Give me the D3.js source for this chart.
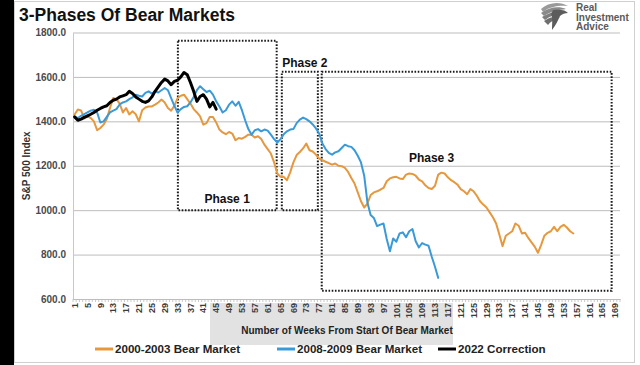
<!DOCTYPE html>
<html><head><meta charset="utf-8">
<script src="https://cdn.jsdelivr.net/npm/d3@7"></script>
<style>body{margin:0;background:#fff}svg{display:block;font-family:"Liberation Sans",Arial,sans-serif}</style>
</head><body><svg width="640" height="365"></svg>
<script>
const weeks = d3.range(1, 171);
const tickWeeks = d3.range(1, 170, 4);
const yTicks = [600, 800, 1000, 1200, 1400, 1600, 1800];

const bear2000 = [1431,1453,1449,1413,1422,1415,1400,1360,1370,1385,1410,1460,1505,1500,1480,1440,1460,1431,1445,1432,
1400,1450,1462,1467,1467,1475,1485,1498,1485,1460,1448,1470,1505,1515,1520,1500,1480,1455,1440,1422,
1385,1392,1420,1420,1395,1363,1350,1342,1352,1345,1315,1325,1322,1330,1340,1340,1327,1333,1320,1295,
1275,1255,1215,1165,1150,1150,1135,1170,1215,1248,1262,1278,1300,1270,1264,1250,1232,1225,1218,1212,
1205,1210,1200,1198,1190,1172,1145,1120,1080,1040,1012,1030,1068,1080,1085,1092,1100,1130,1143,1148,
1150,1143,1140,1160,1165,1163,1155,1138,1130,1112,1100,1095,1110,1160,1169,1165,1148,1135,1126,1115,
1095,1085,1072,1095,1085,1065,1040,1025,1012,990,968,940,890,838,885,895,905,940,930,895,
898,875,855,836,808,844,885,898,905,925,905,925,934,922,905,895];

const bear2008 = [1420,1415,1425,1432,1440,1448,1452,1440,1395,1400,1420,1440,1448,1455,1476,1485,1490,1500,1508,1520,
1515,1512,1528,1535,1525,1535,1530,1540,1550,1540,1505,1470,1440,1455,1465,1468,1485,1510,1540,1558,
1545,1532,1538,1520,1490,1467,1440,1450,1475,1490,1470,1488,1450,1405,1365,1340,1360,1365,1355,1363,
1358,1340,1320,1305,1320,1342,1355,1363,1365,1392,1408,1417,1410,1400,1386,1368,1345,1300,1275,1258,
1250,1260,1265,1280,1295,1288,1285,1270,1245,1215,1155,1035,978,965,928,935,940,870,815,872,
858,895,900,878,905,915,860,832,852,845,840,790,745,695];

const correction2022 = [1420,1405,1410,1418,1425,1432,1440,1450,1458,1465,1470,1485,1495,1500,1510,1515,1520,1535,1525,1510,
1500,1490,1485,1492,1510,1535,1555,1575,1590,1582,1565,1580,1585,1600,1620,1610,1575,1535,1490,1512,
1520,1500,1465,1485,1455];

const seriesNames = ["2000-2003 Bear Market", "2008-2009 Bear Market", "2022 Correction"];
const seriesColors = ["#E6983F", "#3A9AD8", "#000000"];

const phaseNames = ["Phase 1", "Phase 2", "Phase 3"];
const phaseWeeks = [[33.1, 63.8], [65.4, 76.6], [77.8, 167.9]];
const phaseValues = [[1000, 1763], [1000, 1623], [637, 1623]];
const phaseLabelAt = [[48.4, 1032, "middle"], [65.5, 1645, "start"], [104.9, 1217, "start"]];

const svg = d3.select("svg");
const W = 640, H = 365;
const m = {l: 73, r: 20, t: 32.5, b: 66};

// frame
svg.append("rect").attr("x", 0).attr("y", 0).attr("width", W).attr("height", H).attr("fill", "#fff");
svg.append("rect").attr("x", 14.5).attr("y", 1.5).attr("width", 620).attr("height", 361).attr("fill", "none").attr("stroke", "#cfcfcf");
svg.append("rect").attr("x", 0).attr("y", 0).attr("width", 14).attr("height", H).attr("fill", "#000");

const x = d3.scaleBand().domain(weeks).range([m.l, W - m.r]).padding(0);
const bw = x.bandwidth();
const xc = w => x(w) + bw / 2;
const xw = d3.scaleLinear().domain([1, 170]).range([xc(1), xc(170)]);
const y = d3.scaleLinear().domain([600, 1800]).range([H - m.b, m.t]);

// watermark-like gray overlay
svg.append("rect").attr("x", 210).attr("y", 303).attr("width", 243).attr("height", 42).attr("fill", "#d6d6d6").attr("opacity", 0.7);

// gridlines
svg.append("g").attr("transform", `translate(${m.l},0)`)
  .call(d3.axisLeft(y).tickValues(yTicks).tickSize(-(W - m.r - m.l)).tickFormat(""))
  .call(g => g.select(".domain").remove())
  .call(g => g.selectAll("line").attr("stroke", "#bdbdbd").attr("stroke-width", 1));

// y axis labels
svg.append("g").attr("transform", `translate(${m.l},0)`)
  .call(d3.axisLeft(y).tickValues(yTicks).tickSize(0).tickPadding(7).tickFormat(d3.format(".1f")))
  .call(g => g.select(".domain").attr("stroke", "#c8c8c8"))
  .call(g => g.selectAll("text").attr("fill", "#4a4a4a").attr("font-size", 10).attr("font-weight", "bold").attr("font-family", "Liberation Sans, Arial, sans-serif"));

// x axis
svg.append("g").attr("transform", `translate(0,${y(600)})`)
  .call(d3.axisBottom(x).tickValues(tickWeeks).tickSize(0))
  .call(g => g.select(".domain").attr("stroke", "#bdbdbd"))
  .call(g => g.selectAll("text")
    .attr("transform", "rotate(-90)").attr("x", -4).attr("y", 0).attr("dy", "0.35em")
    .style("text-anchor", "end").attr("fill", "#3a3a3a").attr("font-size", 9).attr("font-weight", "bold")
    .attr("font-family", "Liberation Sans, Arial, sans-serif"));
svg.append("g").selectAll("line").data(weeks.concat([171])).join("line")
  .attr("x1", d => d <= 170 ? x(d) : x(170) + bw).attr("x2", d => d <= 170 ? x(d) : x(170) + bw)
  .attr("y1", y(600)).attr("y2", y(600) + 3).attr("stroke", "#bdbdbd").attr("stroke-width", 0.8);

// axis titles
svg.append("text").attr("transform", `translate(30,${(y(600) + y(1800)) / 2}) rotate(-90)`)
  .attr("text-anchor", "middle").attr("font-size", 10).attr("font-weight", "bold").attr("fill", "#333").text("S&P 500 Index");
svg.append("text").attr("x", 347).attr("y", 334).attr("text-anchor", "middle")
  .attr("font-size", 10).attr("font-weight", "bold").attr("fill", "#222").text("Number of Weeks From Start Of Bear Market");

// title
svg.append("text").attr("x", 19).attr("y", 21).attr("font-size", 17.5).attr("font-weight", "bold").attr("fill", "#111").text("3-Phases Of Bear Markets");

// logo
const logo = svg.append("g");
[["M541,9 C548,2 560,1 568,6 C561,5 550,6 543,12 Z", "#9a9a9a"],
 ["M541,13 C549,7 559,6 566,9 C560,10 551,11 544,16 Z", "#8a8a8a"],
 ["M542,17 C549,12 557,11 563,12 C557,14 550,16 545,20 Z", "#7d7d7d"],
 ["M544,21 C549,17 555,16 560,17 C555,19 550,22 548,25 Z", "#6e6e6e"],
 ["M553,10 C560,9 566,10 568,13 C565,13 562,14 560,16 C558,20 556,25 552,30 C552,24 553,18 551,14 Z", "#5c5c5c"]]
  .forEach(p => logo.append("path").attr("d", p[0]).attr("fill", p[1]));
["Real", "Investment", "Advice"].forEach((t, i) => svg.append("text").attr("x", 576).attr("y", 11 + i * 9.5)
  .attr("font-size", 10).attr("font-weight", "bold").attr("fill", "#5a5a5a").text(t));

// phase boxes
phaseNames.forEach((p, i) => {
  svg.append("rect")
    .attr("x", xw(phaseWeeks[i][0])).attr("y", y(phaseValues[i][1]))
    .attr("width", xw(phaseWeeks[i][1]) - xw(phaseWeeks[i][0]))
    .attr("height", y(phaseValues[i][0]) - y(phaseValues[i][1]))
    .attr("fill", "none").attr("stroke", "#1a1a1a").attr("stroke-width", 2).attr("stroke-dasharray", "1.6,1.6");
  svg.append("text").attr("x", xw(phaseLabelAt[i][0])).attr("y", y(phaseLabelAt[i][1]))
    .attr("text-anchor", phaseLabelAt[i][2]).attr("font-size", 12).attr("font-weight", "bold").attr("fill", "#111").text(p);
});

// lines
const line = d3.line().x((d, i) => xc(weeks[i])).y(d => y(d)).curve(d3.curveLinear);
[bear2000, bear2008, correction2022].forEach((s, i) => {
  svg.append("path").datum(s).attr("d", line).attr("fill", "none")
    .attr("stroke", seriesColors[i]).attr("stroke-width", i === 2 ? 3 : 2)
    .attr("stroke-linejoin", "round").attr("stroke-linecap", "round");
});

// legend
const legX = [95, 277, 438];
seriesNames.forEach((n, i) => {
  svg.append("line").attr("x1", legX[i]).attr("x2", legX[i] + 18).attr("y1", 349).attr("y2", 349)
    .attr("stroke", seriesColors[i]).attr("stroke-width", 3);
  svg.append("text").attr("x", legX[i] + 20).attr("y", 353).attr("font-size", 11.6).attr("font-weight", "bold")
    .attr("fill", "#222").text(n);
});
</script></body></html>
